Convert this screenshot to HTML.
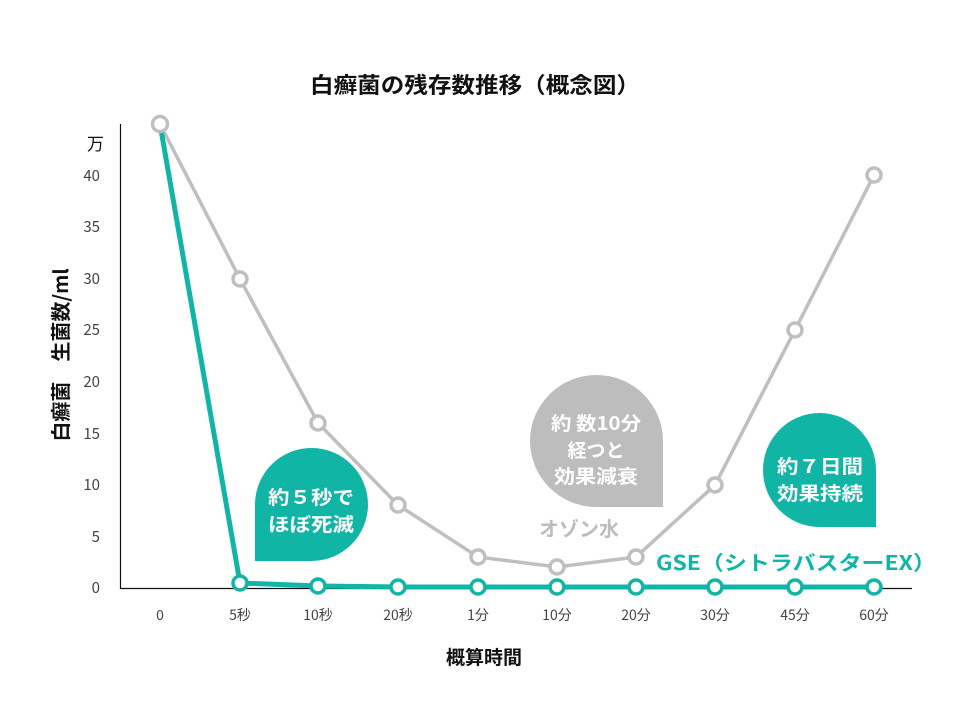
<!DOCTYPE html>
<html><head><meta charset="utf-8"><style>
body{margin:0;background:#fff;}
svg text{font-family:"Noto Sans CJK JP","Liberation Sans",sans-serif;}
</style></head><body>
<svg width="960" height="720" viewBox="0 0 960 720" xmlns="http://www.w3.org/2000/svg">
<rect width="960" height="720" fill="#fff"/>
<text x="475" y="93" text-anchor="middle" font-size="22" font-weight="bold" fill="#111" textLength="330" lengthAdjust="spacingAndGlyphs">白癬菌の残存数推移（概念図）</text>
<line x1="120.5" y1="124" x2="120.5" y2="589" stroke="#111" stroke-width="1.2"/>
<line x1="120" y1="588.5" x2="912" y2="588.5" stroke="#111" stroke-width="1.2"/>
<g font-size="15" fill="#444" text-anchor="end">
<text x="104" y="150" font-size="17" fill="#111">万</text>
<text x="100" y="181">40</text><text x="100" y="232">35</text><text x="100" y="284">30</text>
<text x="100" y="335">25</text><text x="100" y="387">20</text><text x="100" y="439">15</text>
<text x="100" y="490">10</text><text x="100" y="542">5</text><text x="100" y="593">0</text>
</g>
<text transform="translate(68,355) rotate(-90)" text-anchor="middle" font-size="20" font-weight="bold" fill="#111">白癬菌　生菌数/ml</text>
<g font-size="14" fill="#444" text-anchor="middle">
<text x="160" y="620">0</text><text x="240" y="620">5秒</text><text x="318" y="620">10秒</text>
<text x="398" y="620">20秒</text><text x="478" y="620">1分</text><text x="557" y="620">10分</text>
<text x="636" y="620">20分</text><text x="715" y="620">30分</text><text x="795" y="620">45分</text>
<text x="874" y="620">60分</text>
</g>
<text x="484" y="664" text-anchor="middle" font-size="19" font-weight="bold" fill="#111">概算時間</text>
<path d="M255,561 L255,504 A56.5,56.5 0 1 1 311.5,561 Z" fill="#10b5a6"/>
<text x="311" y="504" text-anchor="middle" font-size="19" font-weight="bold" fill="#fff" textLength="86" lengthAdjust="spacingAndGlyphs">約５秒で</text>
<text x="311" y="531" text-anchor="middle" font-size="19" font-weight="bold" fill="#fff" textLength="86" lengthAdjust="spacingAndGlyphs">ほぼ死滅</text>
<path d="M663,507 L596.5,507 A66.5,66 0 1 1 663,441 Z" fill="#bdbdbd"/>
<text x="596" y="430" text-anchor="middle" font-size="19" font-weight="bold" fill="#fff" textLength="90" lengthAdjust="spacingAndGlyphs">約 数10分</text>
<text x="596" y="457" text-anchor="middle" font-size="19" font-weight="bold" fill="#fff">経つと</text>
<text x="596" y="483" text-anchor="middle" font-size="19" font-weight="bold" fill="#fff" textLength="84" lengthAdjust="spacingAndGlyphs">効果減衰</text>
<path d="M876,527 L819.5,527 A56.5,57 0 1 1 876,470 Z" fill="#10b5a6"/>
<text x="820" y="473" text-anchor="middle" font-size="19" font-weight="bold" fill="#fff" textLength="86" lengthAdjust="spacingAndGlyphs">約７日間</text>
<text x="820" y="500" text-anchor="middle" font-size="19" font-weight="bold" fill="#fff" textLength="86" lengthAdjust="spacingAndGlyphs">効果持続</text>
<text x="579" y="536" text-anchor="middle" font-size="20" font-weight="bold" fill="#bdbdbd">オゾン水</text>
<text x="656" y="570" font-size="20" font-weight="bold" fill="#10b5a6" textLength="280" lengthAdjust="spacingAndGlyphs">GSE（シトラバスターEX）</text>
<polyline points="160,124 240,279 318,423 398,505 478,557 557,567 636,557 715,485 795,330 874,175" fill="none" stroke="#bfbfbf" stroke-width="3.5"/>
<polyline points="160,124 240,583 318,586 398,587 478,587 557,587 636,587 715,587 795,587 874,587" fill="none" stroke="#10b5a6" stroke-width="5"/>
<g fill="#fff" stroke="#bfbfbf" stroke-width="3.5">
<circle cx="160" cy="124" r="7.5"/><circle cx="240" cy="279" r="7"/><circle cx="318" cy="423" r="7"/>
<circle cx="398" cy="505" r="7"/><circle cx="478" cy="557" r="7"/><circle cx="557" cy="567" r="7"/>
<circle cx="636" cy="557" r="7"/><circle cx="715" cy="485" r="7"/><circle cx="795" cy="330" r="7"/>
<circle cx="874" cy="175" r="7"/>
</g>
<g fill="#fff" stroke="#10b5a6" stroke-width="3.5">
<circle cx="240" cy="583" r="7"/><circle cx="318" cy="586" r="7"/><circle cx="398" cy="587" r="7"/>
<circle cx="478" cy="587" r="7"/><circle cx="557" cy="587" r="7"/><circle cx="636" cy="587" r="7"/>
<circle cx="715" cy="587" r="7"/><circle cx="795" cy="587" r="7"/><circle cx="874" cy="587" r="7"/>
</g>
</svg>
</body></html>
